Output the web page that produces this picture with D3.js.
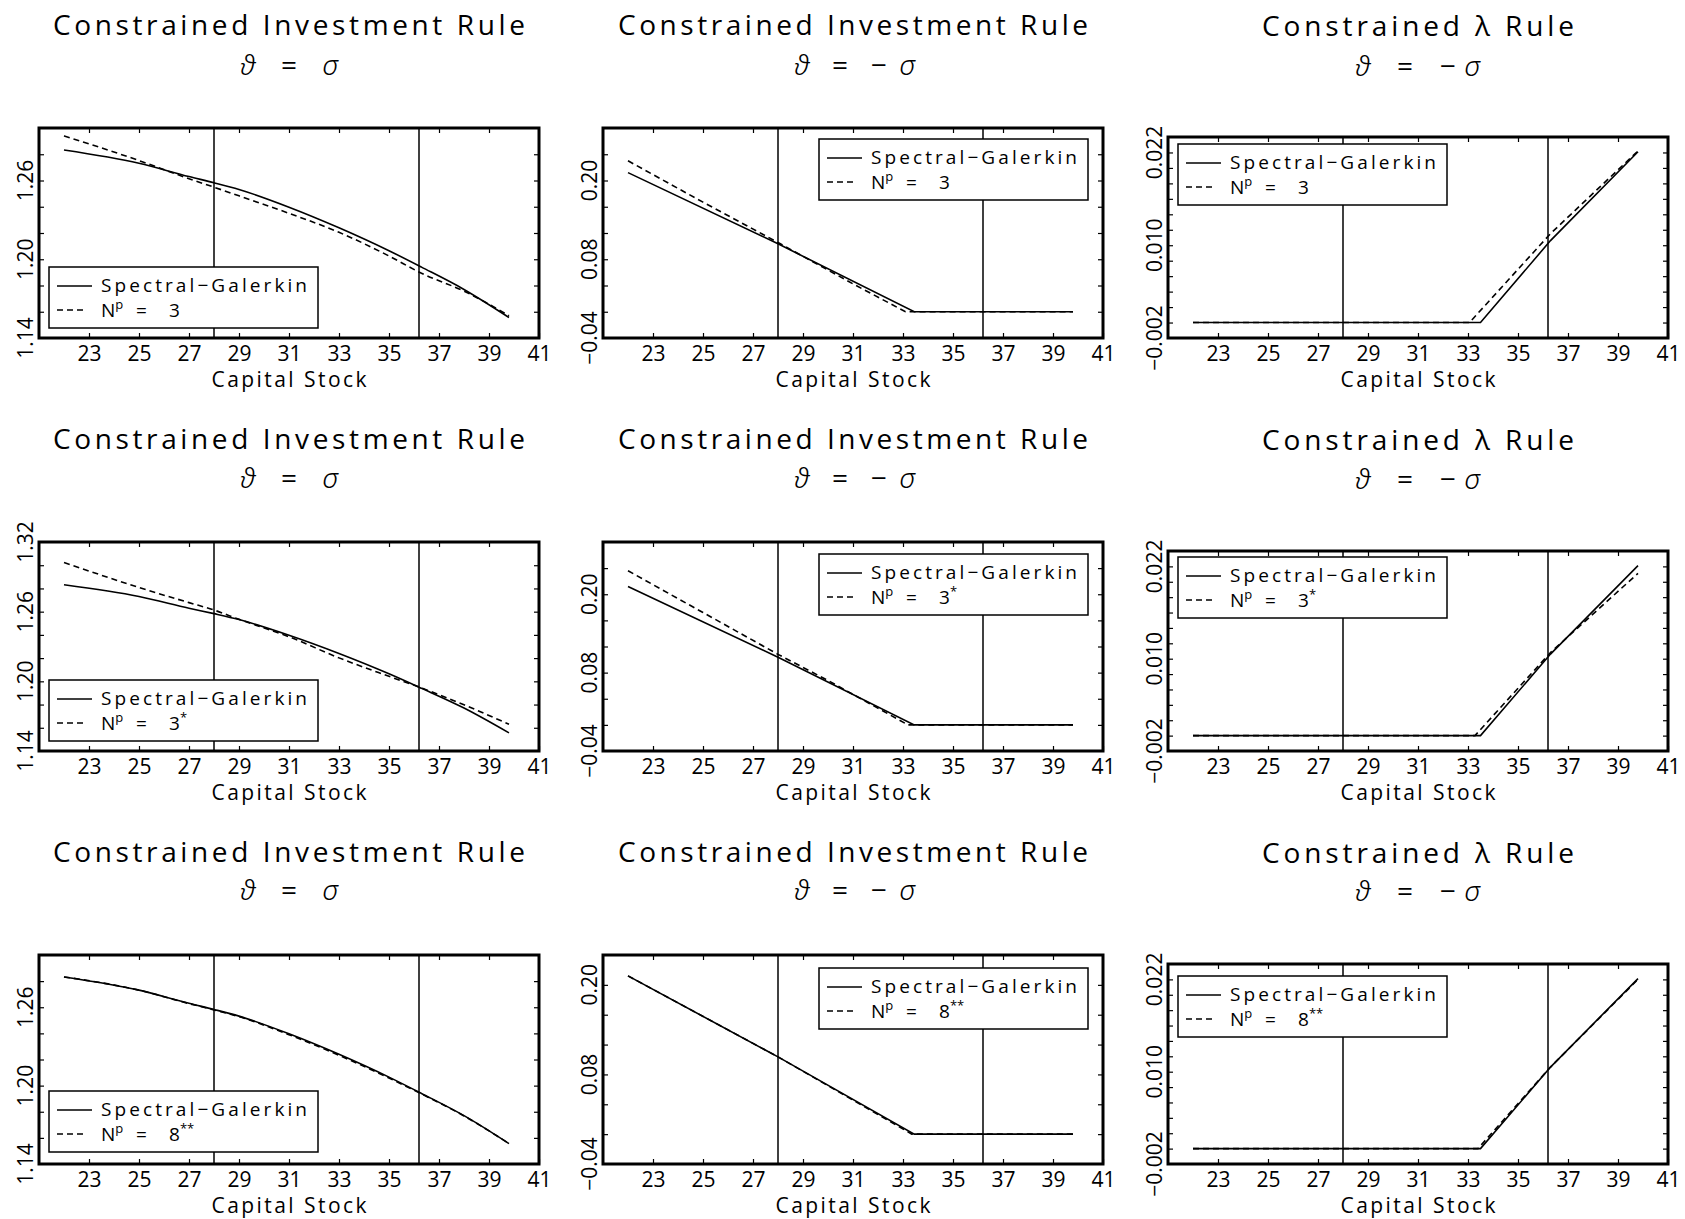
<!DOCTYPE html>
<html>
<head>
<meta charset="utf-8">
<script src="https://cdn.jsdelivr.net/npm/d3@7"></script>
<style>
  body { margin: 0; background: #fff; }
  text { font-family: "Open Sans", "DejaVu Sans", sans-serif; font-weight: 400; fill: #000; }
  .greek { font-family: "Noto Sans", "DejaVu Sans", sans-serif; font-style: italic; font-weight: 300; }
</style>
</head>
<body>
<svg id="chart" width="1685" height="1219"></svg>
<script>
// ---- data ----
const xDomain = [21, 41];
const xTickLabels = [23, 25, 27, 29, 31, 33, 35, 37, 39, 41];
const steadyBounds = [28.0, 36.2];

// investment rule, theta = sigma
const kGrid = [22, 25, 27, 28, 29, 31, 33, 35, 36.3, 38, 39.8];
const invPosSG  = [1.2832, 1.2731, 1.2630, 1.2583, 1.2532, 1.2397, 1.2240, 1.2065, 1.1940, 1.1770, 1.1556];
const invPosN3  = [1.2940, 1.2752, 1.2614, 1.2549, 1.2483, 1.2350, 1.2205, 1.2025, 1.1893, 1.1757, 1.1570];
const invPosN3s = [1.3024, 1.2808, 1.2678, 1.2614, 1.2534, 1.2384, 1.2202, 1.2043, 1.1943, 1.1798, 1.1630];
const invPosN8  = [1.2832, 1.2731, 1.2628, 1.2580, 1.2528, 1.2390, 1.2232, 1.2058, 1.1936, 1.1768, 1.1556];

// investment rule, theta = -sigma
const invNegSGk  = [22, 28, 33.45, 39.8];
const invNegSG   = [0.212, 0.1035, 0, 0];
const invNegN3k  = [22, 25, 28, 31, 33.1, 39.8];
const invNegN3   = [0.230, 0.167, 0.1055, 0.0425, 0, 0];
const invNegN3sk = [22, 25, 28, 30, 33.2, 39.8];
const invNegN3s  = [0.236, 0.172, 0.108, 0.068, 0, 0];
const invNegN8k  = [22, 28, 33.35, 39.8];
const invNegN8   = [0.212, 0.1035, 0, 0];

// lambda rule, theta = -sigma
const lamSGk  = [22, 33.5, 36.3, 39.8];
const lamSG   = [0, 0, 0.0106, 0.0221];
const lamN3k  = [22, 33.06, 36.3, 39.8];
const lamN3   = [0, 0, 0.0115, 0.0222];
const lamN3sk = [22, 33.28, 36.3, 39.8];
const lamN3s  = [0, 0, 0.0108, 0.0211];
const lamN8k  = [22, 33.4, 36.3, 39.8];
const lamN8   = [0, 0, 0.0106, 0.0220];

const yLabelsInvPos = [[1.14, 1.20, 1.26], [1.14, 1.20, 1.26, 1.32], [1.14, 1.20, 1.26]];
const yLabelsInvNeg = [-0.04, 0.08, 0.20];
const yLabelsLam = [-0.002, 0.010, 0.022];

const approxMain = ["3", "3", "8"];
const approxSup = ["", "*", "**"];

// ---- layout ----
const colLeft = [39, 603, 1168];
const boxW = 500;
const rowTop = [128, 542, 955];
const rowBottom = [338, 751, 1164];
const titleBase = [35, 449, 862];
const subBase = [75, 488, 900];
const legW = 269, legH = 61;

const zip = (xs, ys) => xs.map((v, i) => [v, ys[i]]);

const columns = [
  {
    title: "Constrained Investment Rule", titleLen: 472,
    sub: ["ϑ", "=", "σ"], subDx: [-41, 0, 41],
    domains: [[1.14, 1.30], [1.14, 1.32], [1.14, 1.30]], step: 0.02, fmt: d3.format(".2f"),
    labels: r => yLabelsInvPos[r],
    solid: () => zip(kGrid, invPosSG),
    dashed: [zip(kGrid, invPosN3), zip(kGrid, invPosN3s), zip(kGrid, invPosN8)],
    curve: d3.curveMonotoneX, topShift: 0,
    legend: (l, t, b, r) => [l + 10, b - [10, 10, 12][r] - legH]
  },
  {
    title: "Constrained Investment Rule", titleLen: 470,
    sub: ["ϑ", "=", "−", "σ"], subDx: [-51, -13, 26, 54],
    domains: [[-0.04, 0.28], [-0.04, 0.28], [-0.04, 0.24]], step: 0.04, fmt: d3.format(".2f"),
    labels: () => yLabelsInvNeg,
    solid: () => zip(invNegSGk, invNegSG),
    dashed: [zip(invNegN3k, invNegN3), zip(invNegN3sk, invNegN3s), zip(invNegN8k, invNegN8)],
    curve: d3.curveLinear, topShift: 0,
    legend: (l, t, b, r) => [l + boxW - 15 - legW, t + [11, 12, 13][r]]
  },
  {
    title: "Constrained λ Rule", titleLen: 312,
    sub: ["ϑ", "=", "−", "σ"], subDx: [-55, -13, 30, 54],
    domains: [[-0.002, 0.024], [-0.002, 0.024], [-0.002, 0.024]], step: 0.002, fmt: d3.format(".3f"),
    labels: () => yLabelsLam,
    solid: () => zip(lamSGk, lamSG),
    dashed: [zip(lamN3k, lamN3), zip(lamN3sk, lamN3s), zip(lamN8k, lamN8)],
    curve: d3.curveLinear, topShift: 9,
    legend: (l, t, b, r) => [l + 10, t + [7, 6, 12][r]]
  }
];

const svg = d3.select("#chart");

function drawPanel(r, c) {
  const col = columns[c];
  const left = colLeft[c], right = left + boxW;
  const top = rowTop[r] + col.topShift, bottom = rowBottom[r];
  const cx = (left + right) / 2;
  const dom = col.domains[r];

  const x = d3.scaleLinear().domain(xDomain).range([left, right]);
  const y = d3.scaleLinear().domain(dom).range([bottom, top]);

  const g = svg.append("g");

  // titles
  g.append("text")
    .attr("x", cx).attr("y", titleBase[r] + (c === 2 ? 1 : 0))
    .attr("text-anchor", "middle")
    .attr("font-size", 28)
    .attr("textLength", col.titleLen).attr("lengthAdjust", "spacing")
    .text(col.title);

  const sub = g.append("text")
    .attr("y", subBase[r] + (c === 2 ? 1 : 0))
    .attr("text-anchor", "middle")
    .attr("font-size", 28);
  col.sub.forEach((s, i) => {
    sub.append("tspan")
      .attr("x", cx + col.subDx[i])
      .attr("class", (s === "ϑ" || s === "σ") ? "greek" : null)
      .text(s);
  });

  // ticks, inward on all four sides
  const nY = Math.round((dom[1] - dom[0]) / col.step);
  const yTicks = d3.range(1, nY).map(i => dom[0] + i * col.step);
  const xMarks = xTickLabels.filter(v => v < xDomain[1]);

  g.append("g").attr("transform", `translate(0,${bottom})`)
    .call(d3.axisBottom(x).tickValues(xTickLabels).tickSizeInner(-5).tickSizeOuter(0).tickPadding(8))
    .call(a => a.select(".domain").remove())
    .call(a => a.selectAll("text").attr("font-size", 21).attr("font-family", "'Open Sans', 'DejaVu Sans', sans-serif").attr("fill", "#000"))
    .call(a => a.selectAll("line").attr("stroke", "#000").attr("stroke-width", 1.2));

  g.append("g").attr("transform", `translate(0,${top})`)
    .call(d3.axisTop(x).tickValues(xMarks).tickSizeInner(-5).tickSizeOuter(0).tickFormat(""))
    .call(a => a.select(".domain").remove())
    .call(a => a.selectAll("line").attr("stroke", "#000").attr("stroke-width", 1.2));

  g.append("g").attr("transform", `translate(${left},0)`)
    .call(d3.axisLeft(y).tickValues(yTicks).tickSizeInner(-5).tickSizeOuter(0).tickFormat(""))
    .call(a => a.select(".domain").remove())
    .call(a => a.selectAll("line").attr("stroke", "#000").attr("stroke-width", 1.2));

  g.append("g").attr("transform", `translate(${right},0)`)
    .call(d3.axisRight(y).tickValues(yTicks).tickSizeInner(-5).tickSizeOuter(0).tickFormat(""))
    .call(a => a.select(".domain").remove())
    .call(a => a.selectAll("line").attr("stroke", "#000").attr("stroke-width", 1.2));

  // rotated y labels
  g.append("g").selectAll("text")
    .data(col.labels(r))
    .join("text")
    .attr("transform", d => `translate(${left - 6},${y(d)}) rotate(-90)`)
    .attr("text-anchor", "middle")
    .attr("font-size", 21)
    .text(d => col.fmt(d));

  // x axis title
  g.append("text")
    .attr("x", cx).attr("y", bottom + 49)
    .attr("text-anchor", "middle")
    .attr("font-size", 21)
    .attr("textLength", 155).attr("lengthAdjust", "spacing")
    .text("Capital Stock");

  // steady-state bounds
  g.append("g").selectAll("line")
    .data(steadyBounds)
    .join("line")
    .attr("x1", d => x(d)).attr("x2", d => x(d))
    .attr("y1", top).attr("y2", bottom)
    .attr("stroke", "#000").attr("stroke-width", 1.5);

  const line = d3.line().x(d => x(d[0])).y(d => y(d[1])).curve(col.curve);

  g.append("path")
    .attr("d", line(col.solid()))
    .attr("fill", "none").attr("stroke", "#000").attr("stroke-width", 1.6);

  g.append("path")
    .attr("d", line(col.dashed[r]))
    .attr("fill", "none").attr("stroke", "#000").attr("stroke-width", 1.6)
    .attr("stroke-dasharray", "6,4");

  // frame
  g.append("rect")
    .attr("x", left).attr("y", top)
    .attr("width", boxW).attr("height", bottom - top)
    .attr("fill", "none").attr("stroke", "#000").attr("stroke-width", 3);

  // legend
  const [lx, ly] = col.legend(left, top, bottom, r);
  const lg = g.append("g").attr("transform", `translate(${lx},${ly})`);
  lg.append("rect")
    .attr("width", legW).attr("height", legH)
    .attr("fill", "#fff").attr("stroke", "#000").attr("stroke-width", 1.5);
  lg.append("line").attr("x1", 8).attr("x2", 43).attr("y1", 19).attr("y2", 19)
    .attr("stroke", "#000").attr("stroke-width", 1.6);
  lg.append("line").attr("x1", 8).attr("x2", 38).attr("y1", 43).attr("y2", 43)
    .attr("stroke", "#000").attr("stroke-width", 1.6).attr("stroke-dasharray", "6,4");
  lg.append("text").attr("x", 52).attr("y", 25)
    .attr("font-size", 19)
    .attr("textLength", 206).attr("lengthAdjust", "spacing")
    .text("Spectral−Galerkin");

  const t2 = lg.append("text").attr("y", 50).attr("font-size", 19);
  t2.append("tspan").attr("x", 52).text("N");
  t2.append("tspan").attr("font-size", 13).attr("dy", -8).text("p");
  t2.append("tspan").attr("x", 87).attr("dy", 8).text("=");
  t2.append("tspan").attr("x", 120).text(approxMain[r]);
  if (approxSup[r]) t2.append("tspan").attr("font-size", 13).attr("dy", -8).text(approxSup[r]);
}

for (let r = 0; r < 3; r++) {
  for (let c = 0; c < 3; c++) drawPanel(r, c);
}
</script>
</body>
</html>
